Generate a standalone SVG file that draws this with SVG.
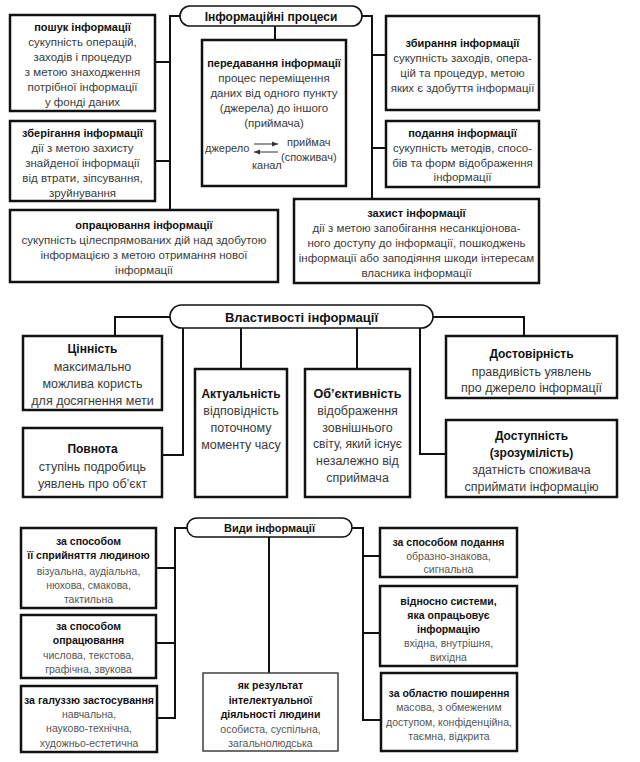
<svg xmlns="http://www.w3.org/2000/svg" width="640" height="762" viewBox="0 0 640 762">
<style>
text{font-family:"Liberation Sans",Arial,sans-serif;text-anchor:middle}
.box{fill:#fff;stroke:#111;stroke-width:2.5}
.thin{fill:#fff;stroke:#333;stroke-width:1.4}
.pill{fill:#fff;stroke:#111;stroke-width:1.6}
.conn{fill:none;stroke:#111;stroke-width:2}
.ar{fill:none;stroke:#333;stroke-width:1}
.h1{font-size:11px;font-weight:bold;fill:#111}
.b1{font-size:11.5px;fill:#3a3a3a}
.h2{font-size:12px;font-weight:bold;fill:#111}
.b2{font-size:12.5px;fill:#3a3a3a}
.h3{font-size:10.5px;font-weight:bold;fill:#111}
.b3{font-size:10.5px;fill:#555}
.sm{font-size:11px;fill:#3a3a3a;text-anchor:start}
.ph{font-weight:bold;fill:#111}
</style>
<defs>
<marker id="ah" markerWidth="6" markerHeight="6" refX="6" refY="3" orient="auto" markerUnits="userSpaceOnUse">
<path d="M0,0.5 L6,3 L0,5.5 Z" fill="#333"/>
</marker>
</defs>

<g id="connectors">
<path class="conn" d="M180,16 H170 V210 M170,62 H155 M170,161 H155"/>
<path class="conn" d="M275,26 V40"/>
<path class="conn" d="M362,16 H372 V199 M372,55 H386 M372,148 H386"/>
<path class="conn" d="M170,317 H115 V336"/>
<path class="conn" d="M183,328 V455 H162"/>
<path class="conn" d="M241,328 V369"/>
<path class="conn" d="M357,328 V369"/>
<path class="conn" d="M420,328 V454 H446"/>
<path class="conn" d="M433,317 H524 V336"/>
<path class="conn" d="M187,528 H175 V718 H157 M175,568 H156 M175,643 H156"/>
<path class="conn" d="M269,537 V673"/>
<path class="conn" d="M352,528 H363 V720 H381 M363,556 H380 M363,633 H380"/>
</g>

<g id="p1">
<rect class="pill" x="180" y="6" width="182" height="20" rx="10"/>
<text class="ph" x="271" y="20.5" font-size="12">Інформаційні процеси</text>
</g>
<g id="poshuk">
<rect class="box" x="10" y="15" width="145" height="96"/>
<text class="h1" x="82.5" y="31">пошук інформації</text>
<text class="b1" x="82.5" y="46">сукупність операцій,</text>
<text class="b1" x="82.5" y="61">заходів і процедур</text>
<text class="b1" x="82.5" y="76">з метою знаходження</text>
<text class="b1" x="82.5" y="91">потрібної інформації</text>
<text class="b1" x="82.5" y="106">у фонді даних</text>
</g>
<g id="zberigannia">
<rect class="box" x="10" y="121" width="145" height="80"/>
<text class="h1" x="82.5" y="137">зберігання інформації</text>
<text class="b1" x="82.5" y="152">дії з метою захисту</text>
<text class="b1" x="82.5" y="167">знайденої інформації</text>
<text class="b1" x="82.5" y="182">від втрати, зіпсування,</text>
<text class="b1" x="82.5" y="197">зруйнування</text>
</g>
<g id="opratsiuvannia">
<rect class="box" x="10" y="210" width="268" height="72"/>
<text class="h1" x="144" y="229">опрацювання інформації</text>
<text class="b1" x="144" y="244">сукупність цілеспрямованих дій над здобутою</text>
<text class="b1" x="144" y="259">інформацією з метою отримання нової</text>
<text class="b1" x="144" y="274">інформації</text>
</g>
<g id="peredavannia">
<rect class="box" x="202" y="40" width="144" height="146"/>
<text class="h1" x="274" y="67">передавання інформації</text>
<text class="b1" x="274" y="82">процес переміщення</text>
<text class="b1" x="274" y="97">даних від одного пункту</text>
<text class="b1" x="274" y="112">(джерела) до іншого</text>
<text class="b1" x="274" y="127">(приймача)</text>
<text class="sm" x="205" y="152">джерело</text>
<line class="ar" x1="254" y1="144" x2="278" y2="144" marker-end="url(#ah)"/>
<line class="ar" x1="278" y1="152" x2="254" y2="152" marker-end="url(#ah)"/>
<text class="sm" x="287" y="146">приймач</text>
<text class="sm" x="281" y="161">(споживач)</text>
<text class="sm" x="252" y="169">канал</text>
</g>
<g id="zbyrannia">
<rect class="box" x="386" y="16" width="153" height="94"/>
<text class="h1" x="462.5" y="47">збирання інформації</text>
<text class="b1" x="462.5" y="62">сукупність заходів, опера-</text>
<text class="b1" x="462.5" y="77">цій та процедур, метою</text>
<text class="b1" x="462.5" y="92">яких є здобуття інформації</text>
</g>
<g id="podannia">
<rect class="box" x="386" y="121" width="153" height="66"/>
<text class="h1" x="462.5" y="137">подання інформації</text>
<text class="b1" x="462.5" y="152">сукупність методів, спосо-</text>
<text class="b1" x="462.5" y="167">бів та форм відображення</text>
<text class="b1" x="462.5" y="181">інформації</text>
</g>
<g id="zakhyst">
<rect class="box" x="294" y="199" width="245" height="84"/>
<text class="h1" x="416.5" y="217">захист інформації</text>
<text class="b1" x="416.5" y="232">дії з метою запобігання несанкціонова-</text>
<text class="b1" x="416.5" y="247">ного доступу до інформації, пошкоджень</text>
<text class="b1" x="416.5" y="262">інформації або заподіяння шкоди інтересам</text>
<text class="b1" x="416.5" y="277">власника інформації</text>
</g>

<g id="p2">
<rect class="pill" x="170" y="305" width="263" height="23" rx="11.5"/>
<text class="ph" x="301.5" y="321.5" font-size="13">Властивості інформації</text>
</g>
<g id="tsinnist">
<rect class="box" x="23" y="336" width="139" height="74"/>
<text class="h2" x="92.5" y="353">Цінність</text>
<text class="b2" x="92.5" y="371">максимально</text>
<text class="b2" x="92.5" y="388">можлива користь</text>
<text class="b2" x="92.5" y="405">для досягнення мети</text>
</g>
<g id="povnota">
<rect class="box" x="23" y="428" width="139" height="69"/>
<text class="h2" x="92.5" y="453">Повнота</text>
<text class="b2" x="92.5" y="471">ступінь подробиць</text>
<text class="b2" x="92.5" y="488">уявлень про об’єкт</text>
</g>
<g id="aktualnist">
<rect class="box" x="195" y="369" width="92" height="128"/>
<text class="h2" x="241" y="398" textLength="79" lengthAdjust="spacingAndGlyphs">Актуальність</text>
<text class="b2" x="241" y="415">відповідність</text>
<text class="b2" x="241" y="432">поточному</text>
<text class="b2" x="241" y="449">моменту часу</text>
</g>
<g id="obiektyvnist">
<rect class="box" x="305" y="369" width="105" height="128"/>
<text class="h2" x="357.5" y="398" textLength="88" lengthAdjust="spacingAndGlyphs">Об’єктивність</text>
<text class="b2" x="357.5" y="415">відображення</text>
<text class="b2" x="357.5" y="432">зовнішнього</text>
<text class="b2" x="357.5" y="448" textLength="89" lengthAdjust="spacingAndGlyphs">світу, який існує</text>
<text class="b2" x="357.5" y="465">незалежно від</text>
<text class="b2" x="357.5" y="482">сприймача</text>
</g>
<g id="dostovirnist">
<rect class="box" x="446" y="336" width="171" height="62"/>
<text class="h2" x="531.5" y="358">Достовірність</text>
<text class="b2" x="531.5" y="376">правдивість уявлень</text>
<text class="b2" x="531.5" y="392">про джерело інформації</text>
</g>
<g id="dostupnist">
<rect class="box" x="446" y="420" width="171" height="77"/>
<text class="h2" x="531.5" y="440">Доступність</text>
<text class="h2" x="531.5" y="457">(зрозумілість)</text>
<text class="b2" x="531.5" y="474">здатність споживача</text>
<text class="b2" x="531.5" y="491">сприймати інформацію</text>
</g>

<g id="p3">
<rect class="pill" x="187" y="518" width="165" height="19" rx="9.5"/>
<text class="ph" x="269.5" y="531.5" font-size="11">Види інформації</text>
</g>
<g id="spryiniattia">
<rect class="box" x="21" y="528" width="135" height="80"/>
<text class="h3" x="88.5" y="545">за способом</text>
<text class="h3" x="88.5" y="559">її сприйняття людиною</text>
<text class="b3" x="88.5" y="575">візуальна, аудіальна,</text>
<text class="b3" x="88.5" y="589">нюхова, смакова,</text>
<text class="b3" x="88.5" y="603">тактильна</text>
</g>
<g id="opratsiuvannia2">
<rect class="box" x="21" y="615" width="135" height="63"/>
<text class="h3" x="88.5" y="630">за способом</text>
<text class="h3" x="88.5" y="644">опрацювання</text>
<text class="b3" x="88.5" y="659">числова, текстова,</text>
<text class="b3" x="88.5" y="673">графічна, звукова</text>
</g>
<g id="haluz">
<rect class="box" x="21" y="686" width="136" height="66"/>
<text class="h3" x="89" y="704" textLength="130" lengthAdjust="spacingAndGlyphs">за галуззю застосування</text>
<text class="b3" x="89" y="718">навчальна,</text>
<text class="b3" x="89" y="732">науково-технічна,</text>
<text class="b3" x="89" y="747">художньо-естетична</text>
</g>
<g id="rezultat">
<rect class="thin" x="203" y="673" width="135" height="78"/>
<text class="h3" x="270.5" y="689">як результат</text>
<text class="h3" x="270.5" y="704">інтелектуальної</text>
<text class="h3" x="270.5" y="718">діяльності людини</text>
<text class="b3" x="270.5" y="733">особиста, суспільна,</text>
<text class="b3" x="270.5" y="747">загальнолюдська</text>
</g>
<g id="podannia2">
<rect class="box" x="380" y="528" width="137" height="49"/>
<text class="h3" x="448.5" y="546">за способом подання</text>
<text class="b3" x="448.5" y="560">образно-знакова,</text>
<text class="b3" x="448.5" y="573">сигнальна</text>
</g>
<g id="systema">
<rect class="box" x="380" y="586" width="137" height="80"/>
<text class="h3" x="448.5" y="605">відносно системи,</text>
<text class="h3" x="448.5" y="619">яка опрацьовує</text>
<text class="h3" x="448.5" y="633">інформацію</text>
<text class="b3" x="448.5" y="647">вхідна, внутрішня,</text>
<text class="b3" x="448.5" y="661">вихідна</text>
</g>
<g id="poshyrennia">
<rect class="box" x="381" y="673" width="136" height="78"/>
<text class="h3" x="449" y="697">за областю поширення</text>
<text class="b3" x="449" y="711">масова, з обмеженим</text>
<text class="b3" x="449" y="726">доступом, конфіденційна,</text>
<text class="b3" x="449" y="740">таємна, відкрита</text>
</g>
</svg>
